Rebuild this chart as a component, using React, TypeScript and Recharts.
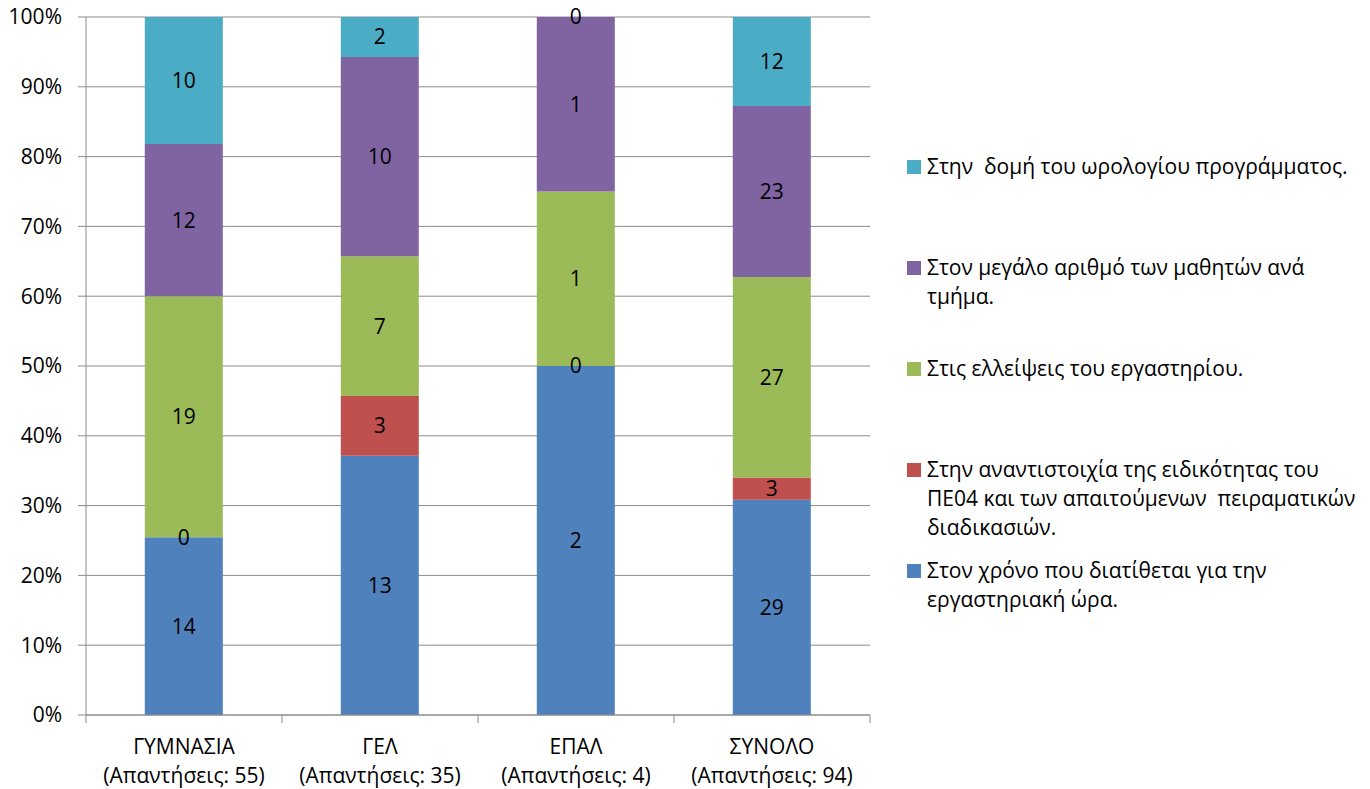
import React from 'react';
import { BarChart, Bar, XAxis, YAxis, CartesianGrid, Legend, LabelList } from 'recharts';

const categories = ['ΓΥΜΝΑΣΙΑ', 'ΓΕΛ', 'ΕΠΑΛ', 'ΣΥΝΟΛΟ'];
const responses = [55, 35, 4, 94];

// bottom to top, as stacked in the chart
const timeValues = [14, 13, 2, 29];
const mismatchValues = [0, 3, 0, 3];
const labValues = [19, 7, 1, 27];
const classSizeValues = [12, 10, 1, 23];
const scheduleValues = [10, 2, 0, 12];

const seriesKeys = ['time', 'mismatch', 'lab', 'classSize', 'schedule'];
const seriesNames = [
    'Στον χρόνο που διατίθεται για την\nεργαστηριακή ώρα.',
    'Στην αναντιστοιχία της ειδικότητας του\nΠΕ04 και των απαιτούμενων  πειραματικών\nδιαδικασιών.',
    'Στις ελλείψεις του εργαστηρίου.',
    'Στον μεγάλο αριθμό των μαθητών ανά\nτμήμα.',
    'Στην  δομή του ωρολογίου προγράμματος.',
];
const seriesColors = ['#4F81BD', '#C0504D', '#9BBB59', '#8064A2', '#4BACC6'];
const seriesValues = [timeValues, mismatchValues, labValues, classSizeValues, scheduleValues];

const yTicks = [0, 0.1, 0.2, 0.3, 0.4, 0.5, 0.6, 0.7, 0.8, 0.9, 1];

const data = categories.map((name, i) => {
    const row: Record<string, string | number> = { name, responses: responses[i] };
    seriesKeys.forEach((key, s) => {
        row[key] = seriesValues[s][i];
    });
    return row;
});

const FONT = '"Open Sans", sans-serif';
const FONT_SIZE = 21;
const AXIS = '#8c8c8c';

const CategoryTick = (props: any) => {
    const { x, y, payload, index } = props;
    const half = payload.offset || 98;
    const last = index === categories.length - 1;
    return (
        <g>
            <line x1={x - half} y1={y} x2={x - half} y2={y + 8} stroke={AXIS} />
            {last && <line x1={x + half} y1={y} x2={x + half} y2={y + 8} stroke={AXIS} />}
            <text x={x} y={y + 39} textAnchor="middle" fontSize={FONT_SIZE} fill="#000">
                {payload.value}
            </text>
            <text x={x} y={y + 68} textAnchor="middle" fontSize={FONT_SIZE} fill="#000">
                {`(Απαντήσεις: ${responses[index]})`}
            </text>
        </g>
    );
};

const LegendContent = (props: any) => {
    // legend lists the top of the stack first
    const items = [...(props.payload || [])].sort(
        (a: any, b: any) => seriesNames.indexOf(b.value) - seriesNames.indexOf(a.value)
    );
    return (
        <div style={{ display: 'flex', flexDirection: 'column', fontFamily: FONT }}>
            {items.map((item: any) => (
                <div key={item.value} style={{ height: 101, display: 'flex', alignItems: 'flex-start' }}>
                    <span style={{ width: 14, height: 14, background: item.color, marginTop: 8, marginRight: 6, flex: 'none' }} />
                    <span style={{ whiteSpace: 'pre', fontSize: FONT_SIZE, lineHeight: '29px', color: '#000' }}>{item.value}</span>
                </div>
            ))}
        </div>
    );
};

export default function App() {
    return (
        <div style={{ position: 'absolute', left: 0, top: 0, fontFamily: FONT, background: '#fff' }}>
            <BarChart
                width={1370}
                height={789}
                data={data}
                stackOffset="expand"
                barCategoryGap="30%"
                margin={{ top: 17, right: 500, left: 0, bottom: 0 }}
            >
                <CartesianGrid vertical={false} stroke={AXIS} />
                <XAxis
                    dataKey="name"
                    height={74}
                    tickSize={0}
                    tickMargin={0}
                    tickLine={false}
                    axisLine={{ stroke: AXIS }}
                    interval={0}
                    tick={<CategoryTick />}
                />
                <YAxis
                    width={86}
                    domain={[0, 1]}
                    ticks={yTicks}
                    tickSize={8}
                    tickMargin={16}
                    axisLine={{ stroke: AXIS }}
                    tickLine={{ stroke: AXIS }}
                    tick={{ fontSize: FONT_SIZE, fill: '#000' }}
                    tickFormatter={(v: number) => `${Math.round(v * 100)}%`}
                />
                <Legend
                    layout="vertical"
                    align="center"
                    verticalAlign="middle"
                    wrapperStyle={{ left: 907, top: 152, width: 460 }}
                    content={<LegendContent />}
                />
                {seriesKeys.map((key, s) => (
                    <Bar
                        key={key}
                        dataKey={key}
                        name={seriesNames[s]}
                        stackId="a"
                        fill={seriesColors[s]}
                        minPointSize={0.01}
                        isAnimationActive={false}
                    >
                        <LabelList
                            dataKey={key}
                            position="center"
                            fill="#000"
                            fontSize={FONT_SIZE}
                            formatter={(v: any) => String(v)}
                        />
                    </Bar>
                ))}
            </BarChart>
        </div>
    );
}
